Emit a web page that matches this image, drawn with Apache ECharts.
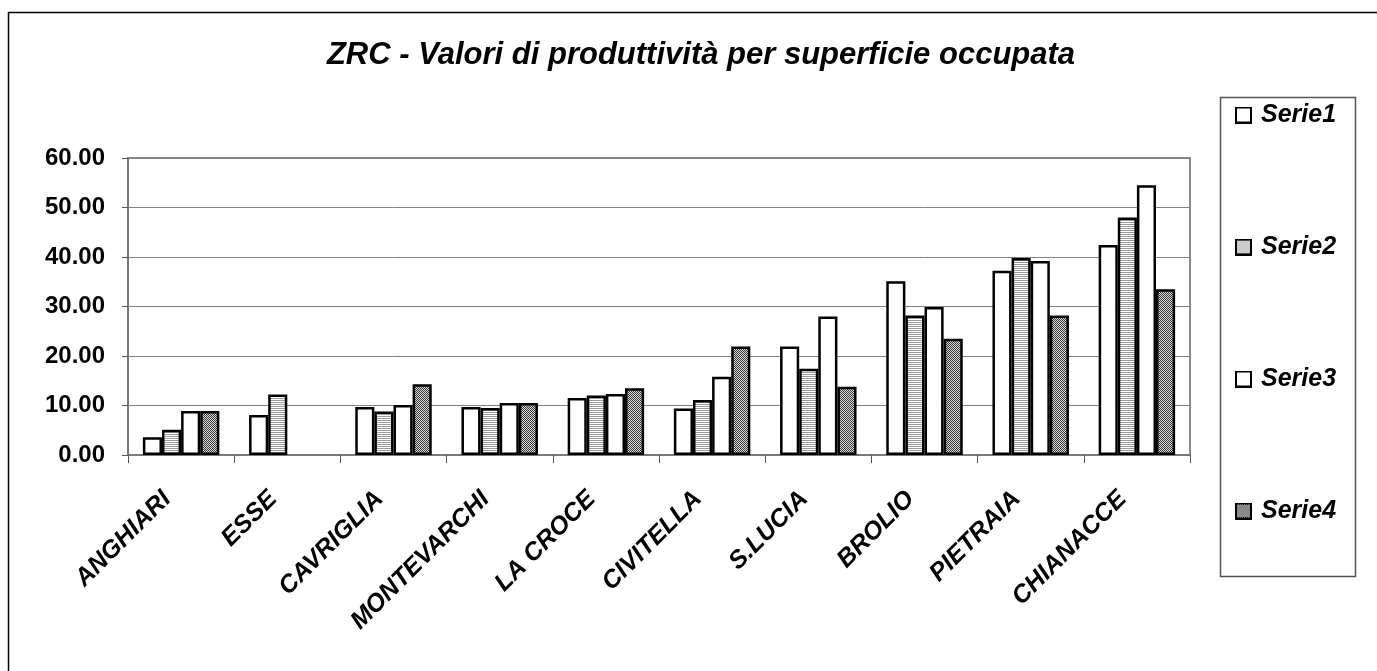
<!DOCTYPE html>
<html><head><meta charset="utf-8">
<script src="https://cdn.jsdelivr.net/npm/echarts@6/dist/echarts.min.js"></script>
<style>html,body{margin:0;padding:0;background:#fff}#c{width:1377px;height:671px}</style>
</head><body><div id="c"></div>
<script>
const categories = ['ANGHIARI','ESSE','CAVRIGLIA','MONTEVARCHI','LA CROCE','CIVITELLA','S.LUCIA','BROLIO','PIETRAIA','CHIANACCE'];
const serie1 = [3.6, 8.1, 9.7, 9.7, 11.5, 9.4, 21.9, 35.1, 37.2, 42.4];
const serie2 = [5.1, 12.2, 8.8, 9.5, 12.0, 11.1, 17.4, 28.2, 39.8, 48.0];
const serie3 = [8.9, null, 10.1, 10.5, 12.3, 15.8, 28.0, 29.9, 39.2, 54.5];
const serie4 = [8.9, null, 14.3, 10.5, 13.5, 21.9, 13.8, 23.5, 28.2, 33.5];
const seriesNames = ['Serie1','Serie2','Serie3','Serie4'];
const title = 'ZRC - Valori di produttività per superficie occupata';
const kinds = ['w','h','w','d'];

function paintPattern(g, kind, w, h){
  g.fillStyle = '#fff'; g.fillRect(0,0,w,h);
  for(let y=0;y<h;y++) for(let x=0;x<w;x++){
    if(kind==='h'){ if(y%2===0){ g.fillStyle='#9a9a9a'; g.fillRect(x,y,1,1);} }
    else if(kind==='d'){ g.fillStyle = ((x+y)%2===0)?'#3a3a3a':'#d8d8d8'; g.fillRect(x,y,1,1); }
  }
}
function pattern(kind){
  const c = document.createElement('canvas');
  c.width = 2; c.height = 2;
  paintPattern(c.getContext('2d'), kind, 2, 2);
  return {image: c, repeat: 'repeat'};
}
function legendIcon(kind){
  const s = 17, c = document.createElement('canvas');
  c.width = s; c.height = s;
  const g = c.getContext('2d');
  paintPattern(g, kind, s, s);
  g.strokeStyle = '#000'; g.lineWidth = 2; g.strokeRect(1,1,s-2,s-2);
  return 'image://' + c.toDataURL();
}
const fills = kinds.map(k => k==='w' ? '#ffffff' : pattern(k));
const datas = [serie1, serie2, serie3, serie4];
const font = '"Liberation Sans", Arial, sans-serif';

const chart = echarts.init(document.getElementById('c'), null, {renderer:'canvas'});
chart.setOption({
  animation:false,
  backgroundColor:'#fff',
  title:{text:title, left:696, top:35, textAlign:'center',
    textStyle:{fontFamily:font, fontSize:31, fontWeight:'bold', fontStyle:'italic', color:'#000'}},
  graphic:[
    {type:'rect', shape:{x:8.5,y:12.5,width:1400,height:700}, style:{fill:null, stroke:'#000', lineWidth:1.5}, silent:true, z:-1},
    {type:'rect', shape:{x:1220.5,y:97.5,width:135,height:479}, style:{fill:null, stroke:'#555', lineWidth:1.5}, silent:true, z:-1}
  ],
  legend:{orient:'vertical', left:1235, top:102, padding:0, itemGap:106, itemWidth:17, itemHeight:17,
    textStyle:{fontFamily:font, fontSize:25, lineHeight:26, fontWeight:'bold', fontStyle:'italic', color:'#000', padding:[0,0,0,4]},
    data:seriesNames.map((n,i)=>({name:n, icon:legendIcon(kinds[i])}))},
  grid:{left:128, right:187, top:158, bottom:216, show:true, borderColor:'#8a8a8a', borderWidth:2},
  xAxis:{type:'category', data:categories,
    axisLine:{lineStyle:{color:'#777', width:1.5}},
    axisTick:{show:true, length:8, lineStyle:{color:'#555'}},
    axisLabel:{rotate:45, margin:26, interval:0, padding:[0,20,0,0], fontFamily:font, fontSize:25, fontWeight:'bold', fontStyle:'italic', color:'#000'}},
  yAxis:{type:'value', min:0, max:60, interval:10,
    axisLine:{show:true, lineStyle:{color:'#777', width:2}},
    axisTick:{show:true, length:6, lineStyle:{color:'#555'}},
    splitLine:{lineStyle:{color:'#808080', width:1}},
    axisLabel:{margin:23, formatter:v=>v.toFixed(2), fontFamily:font, fontSize:24, fontWeight:'bold', color:'#000'}},
  series: seriesNames.map((n,i)=>({
    name:n, type:'bar', data:datas[i], barGap:'0%', barCategoryGap:'28%',
    itemStyle:{color:fills[i], borderColor:'#000', borderWidth:2.5}
  }))
});
</script></body></html>
